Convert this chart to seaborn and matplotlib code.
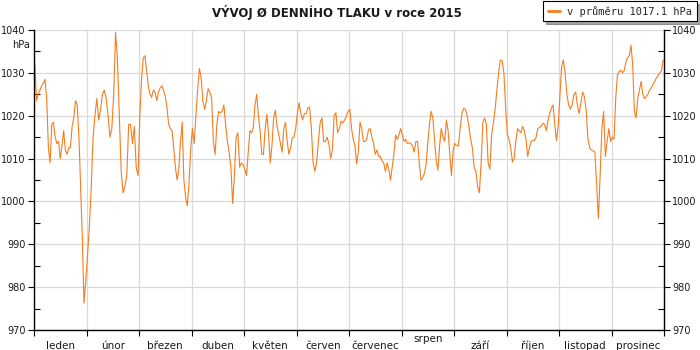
import matplotlib
matplotlib.use("Agg")
import matplotlib.pyplot as plt
import matplotlib.transforms as mtransforms
from matplotlib.ticker import MultipleLocator, FixedLocator, NullFormatter
import pandas as pd
import seaborn as sns

# --- data: daily mean air pressure 2015 [hPa] ---------------------------
months = ["leden", "únor", "březen", "duben", "květen", "červen",
          "červenec", "srpen", "září", "říjen", "listopad", "prosinec"]

jan = [1032, 1023.5, 1025, 1026, 1027, 1027.5, 1028.5, 1024, 1012.5, 1009,
       1018, 1018.5, 1015, 1013.5, 1014, 1010, 1013, 1016.5, 1012, 1011,
       1012.5, 1012.5, 1017.5, 1019.5, 1023.5, 1022.5, 1015.5, 1004, 992,
       976.3, 981]
feb = [987, 994, 1003, 1015, 1020, 1024, 1019, 1021.5, 1025, 1026, 1024,
       1020, 1015, 1017, 1025, 1039.5, 1033, 1020, 1007, 1002, 1003.5, 1006,
       1018, 1018, 1013.5, 1017.5, 1008, 1006]
mar = [1020, 1028.5, 1033.5, 1034, 1030.4, 1027, 1025, 1024.3, 1026, 1025.5,
       1023.5, 1025.5, 1026.5, 1027, 1026, 1024.5, 1022, 1018, 1017, 1016.5,
       1012.5, 1008, 1005, 1007.5, 1014, 1018.5, 1005, 1001, 999, 1004, 1012]
apr = [1017, 1013.5, 1020, 1026, 1031, 1029, 1023.5, 1021.5, 1023.4, 1026.3,
       1025.5, 1024, 1014, 1011, 1018, 1021, 1020.7, 1021, 1022.5, 1018,
       1014, 1011.5, 1008, 999.5, 1006, 1015, 1016, 1008, 1009, 1008.5]
may = [1007.5, 1006, 1011.5, 1016.5, 1016, 1017.2, 1022.5, 1025, 1020,
       1016.5, 1011, 1011, 1017, 1020.3, 1015.6, 1009, 1013, 1019.5, 1021.3,
       1017.5, 1015.6, 1013.5, 1011.5, 1017, 1018.5, 1014, 1011, 1012.5,
       1014.8, 1015, 1017]
jun = [1020.5, 1023, 1020.5, 1019, 1020.5, 1020.5, 1021.8, 1022, 1017, 1009,
       1007, 1009, 1014, 1018.3, 1019.5, 1014, 1014, 1015, 1013.5, 1010,
       1012, 1020, 1020.7, 1016, 1017, 1018.7, 1018.3, 1019, 1019.9, 1021]
jul = [1021.5, 1017, 1014.5, 1013, 1008.8, 1011.5, 1018.5, 1017, 1014, 1014,
       1014.5, 1016.8, 1017, 1015, 1013.5, 1011, 1012, 1010.5, 1010.5, 1009.5,
       1009, 1007, 1009, 1007.5, 1005, 1008, 1011, 1015.5, 1014.5, 1015.5,
       1017]
aug = [1015.5, 1014, 1014.5, 1013.5, 1013.7, 1013.5, 1013, 1011.5, 1014,
       1014, 1009, 1005, 1005.5, 1006.5, 1008.5, 1013.5, 1018, 1021, 1019.5,
       1014.5, 1009.5, 1007.3, 1013, 1017, 1015, 1014, 1019, 1016.5, 1011,
       1006, 1012]
sep = [1013.5, 1013, 1013, 1017, 1020.5, 1021.7, 1021.5, 1020, 1017.5,
       1014.5, 1012.5, 1008, 1007, 1003.5, 1002, 1009, 1018.5, 1019.5, 1018,
       1009, 1007.5, 1015.5, 1018.3, 1021.5, 1026, 1030, 1033, 1032.8, 1030,
       1022]
oct = [1015.6, 1014.5, 1012.5, 1009.2, 1010, 1014, 1017, 1016.5, 1016,
       1017.5, 1016.5, 1014.5, 1010.5, 1012.5, 1014, 1014.2, 1014.2, 1015,
       1017, 1017.3, 1017.5, 1018.2, 1018, 1016.5, 1019, 1020.5, 1021.8,
       1022.5, 1018, 1014.2, 1017.5]
nov = [1024.5, 1031.5, 1033, 1030, 1025, 1022.5, 1021.5, 1022.5, 1025,
       1025.5, 1022.5, 1020.5, 1023, 1025.5, 1024.5, 1021.5, 1014.8, 1012.5,
       1012, 1011.8, 1011.5, 1004, 996, 1006, 1017, 1021, 1010.5, 1014, 1017,
       1014]
dec = [1015, 1014.5, 1024, 1029.5, 1030.3, 1030.6, 1030, 1030.5, 1032.5,
       1033.5, 1034, 1036.5, 1032, 1021, 1019.5, 1024, 1026, 1028, 1025,
       1024, 1024.5, 1025, 1026, 1026.5, 1027.3, 1028, 1028.8, 1029.3, 1030,
       1030.5, 1033]

mean_label = "v průměru 1017.1 hPa"
title = "VÝVOJ Ø DENNÍHO TLAKU v roce 2015"
y_ticks = [970, 980, 990, 1000, 1010, 1020, 1030, 1040]

# every month gets the same width on the x axis; days are spread inside it
series = [jan, feb, mar, apr, may, jun, jul, aug, sep, oct, nov, dec]
rows = []
for m, vals in enumerate(series):
    n = len(vals)
    for d, v in enumerate(vals):
        rows.append({"pozice": m + (d + 0.5) / n, "tlak": v})
df = pd.DataFrame(rows)

# --- styling --------------------------------------------------------------
sns.set_theme(style="white")
plt.rcParams["font.family"] = ["DejaVu Sans"]

LINE = "#f57d1f"
GRID = "#d9d9d9"
TXT = "#1a1a1a"

W, H = 700, 350
fig = plt.figure(figsize=(W / 100, H / 100), dpi=100)
ax = fig.add_axes([34 / W, 20 / H, 630 / W, 300 / H])

sns.lineplot(data=df, x="pozice", y="tlak", color=LINE, linewidth=0.8,
             estimator=None, ax=ax, legend=False)

ax.set_xlim(0, 12)
ax.set_ylim(970, 1040)
ax.set_xlabel("")
ax.set_ylabel("")

# spines: left, right, bottom in black; top edge is just a grid line
for side in ("left", "right", "bottom"):
    ax.spines[side].set_color("black")
    ax.spines[side].set_linewidth(1.0)
ax.spines["top"].set_visible(False)

# y axis: labels on both sides, major ticks outward, minor ticks inward
ax.yaxis.set_major_locator(FixedLocator(y_ticks))
ax.yaxis.set_minor_locator(MultipleLocator(5))
ax.tick_params(axis="y", which="major", direction="out", length=4, width=0.8,
               color="black", left=True, right=True, labelleft=True,
               labelright=True, labelsize=7, labelcolor=TXT, pad=2)
ax.tick_params(axis="y", which="minor", direction="in", length=4, width=0.8,
               color="black", left=True, right=True)

# x axis: ticks at month boundaries, month names centred between them
ax.xaxis.set_major_locator(FixedLocator(range(13)))
ax.xaxis.set_major_formatter(NullFormatter())
ax.xaxis.set_minor_locator(FixedLocator([]))
ax.tick_params(axis="x", which="major", direction="out", length=4, width=0.8,
               color="black", bottom=True)

ax.grid(True, which="major", axis="both", color=GRID, linewidth=0.9)
ax.set_axisbelow(True)

month_tf = mtransforms.blended_transform_factory(ax.transData, ax.transAxes)
for m, name in enumerate(months):
    dy = 7 if name == "srpen" else 0
    ax.text(m + 0.5, 0, name, transform=month_tf + mtransforms.ScaledTranslation(
                0, (-16 + dy) / 100, fig.dpi_scale_trans),
            ha="center", va="center", fontsize=7.5, color=TXT)

fig.text(30 / W, 1 - 45 / H, "hPa", ha="right", va="center", fontsize=7,
         color=TXT)

fig.text(337 / W, 1 - 13 / H, title, ha="center", va="center", fontsize=8.5,
         fontweight="bold", color=TXT)

handle = plt.Line2D([], [], color=LINE, linewidth=2)
leg = fig.legend([handle], [mean_label], loc="upper right",
                 bbox_to_anchor=(697 / W, 1 - 1 / H), frameon=True,
                 fancybox=False, shadow=True, edgecolor="black",
                 facecolor="white", framealpha=1,
                 prop={"family": "DejaVu Sans Mono", "size": 7.5},
                 handlelength=1.15, handletextpad=0.75, borderpad=0.45,
                 borderaxespad=0)
leg.get_frame().set_linewidth(0.8)

fig.savefig("out.png", dpi=100)
